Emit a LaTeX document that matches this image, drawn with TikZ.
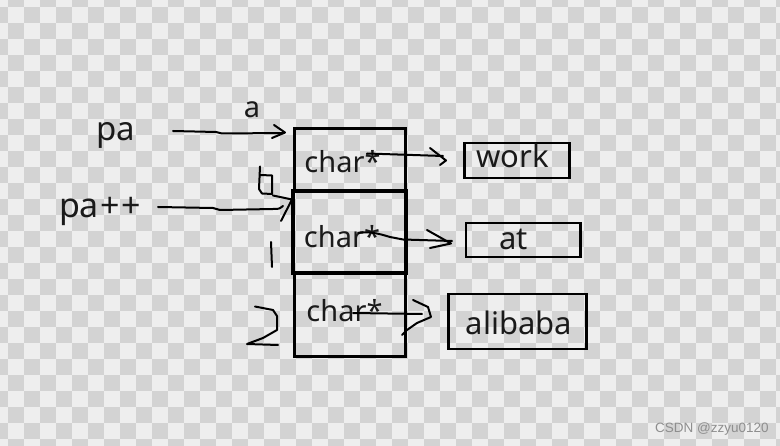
\documentclass[tikz,border=0pt]{standalone}
\usepackage{fontspec}
\setmainfont{Noto Sans}
\newfontfamily\wmfont{Liberation Sans}
\definecolor{chklight}{HTML}{EEEEEE}
\definecolor{chkgrey}{HTML}{D3D3D3}
\definecolor{ink}{HTML}{1A1A1A}
\definecolor{wmgrey}{HTML}{8E8E8E}
\begin{document}
\begin{tikzpicture}[x=1pt,y=-1pt,
  wordbox/.style={draw=black,line width=2.9pt,inner sep=0pt},
  lbl/.style={text=ink,inner sep=0pt,anchor=base},
  pen/.style={draw=black,line width=2pt,line cap=round,line join=round}
]
\useasboundingbox (0,0) rectangle (780,446);
% checkerboard background
\begin{scope}
\clip (0,0) rectangle (780,446);
\fill[chklight] (0,0) rectangle (780,446);
\foreach \j in {0,...,28} {
  \pgfmathtruncatemacro\s{mod(\j+1,2)}
  \pgfmathtruncatemacro\t{\s+2}
  \foreach \i in {\s,\t,...,49} {
    \fill[chkgrey] (16*\i-8,16*\j-9) rectangle ++(16,16);
  }
}
\end{scope}

% array cells
\node[draw=black,line width=3pt,inner sep=0pt,minimum width=111pt,minimum height=62pt] (box1) at (349.5,160) {};
\node[draw=black,line width=3pt,inner sep=0pt,minimum width=111pt,minimum height=84pt] (box3) at (349.5,315) {};
\node[draw=black,line width=4pt,inner sep=0pt,minimum width=113pt,minimum height=82pt] (box2) at (349.5,232) {};

% string boxes
\node[wordbox,minimum width=105pt,minimum height=35pt] (wbox) at (517,160.5) {};
\node[wordbox,minimum width=114.5pt,minimum height=34pt] (abox) at (523.25,240) {};
\node[wordbox,minimum width=138pt,minimum height=55pt] (lbox) at (517.5,321.5) {};

% labels
\node[lbl,font=\fontsize{33}{36}\selectfont] (pa) at (116,141) {pa};
\node[lbl,font=\fontsize{34}{37}\selectfont] (papp) at (100,218) {pa\kern1pt+\kern2pt+};
\node[lbl,font=\fontsize{29}{32}\selectfont] (la) at (252,118) {a};
\node[lbl,font=\fontsize{29}{32}\selectfont] (c1) at (342.5,173) {char*};
\node[lbl,font=\fontsize{29}{32}\selectfont] (c2) at (342,248) {char*};
\node[lbl,font=\fontsize{29}{32}\selectfont] (c3) at (344.5,322) {char*};
\node[lbl,font=\fontsize{31}{34}\selectfont] (tw) at (512.5,168) {work};
\node[lbl,font=\fontsize{31}{34}\selectfont] (ta) at (513.5,250) {at};
\node[lbl,font=\fontsize{31}{34}\selectfont] (tl) at (519,335) {alibaba};
\node[anchor=base west,inner sep=0pt,text=wmgrey,font=\wmfont\fontsize{13.5}{15}\selectfont] (wm) at (655,433) {CSDN @zzyu0120};

% pa -> box1
\draw[pen] (173,131) -- (216,132) -- (222,133.5) -- (284,133);
\draw[pen] (274,125) -- (285,132.5) -- (272,138);
% pa++ -> box2
\draw[pen] (158,207) -- (213,208) -- (220,210) -- (273,209) .. controls (279,209) .. (283,206);
\draw[pen] (273,195.5) .. controls (283,197) .. (292,199.5) -- (281,221);
% hand marks b, 1, 2
\draw[pen] (260,166.5) -- (259,189) -- (262,193.5) -- (272,194) -- (272,175.5) -- (260.5,175);
\draw[pen] (271,242) -- (272,267);
\draw[pen] (255,306.5) -- (273,310) -- (277,316) -- (277,330) -- (263,338) -- (247,344) -- (278,345);
% char* -> work
\draw[pen] (367,153.5) -- (443,156);
\draw[pen] (430,148) -- (446,160.5) -- (440,165);
% char* -> at
\draw[pen] (358,233) .. controls (370,231) and (380,234) .. (390,237) -- (403,239.5) -- (452,241);
\draw[pen] (427,230) -- (451,243.5) -- (430,248);
% char* -> alibaba
\draw[pen] (353,313) -- (422,314);
\draw[pen] (413,300) -- (428,307) -- (431,317) -- (417,323) -- (407,330) -- (402,335);
\end{tikzpicture}
\end{document}
